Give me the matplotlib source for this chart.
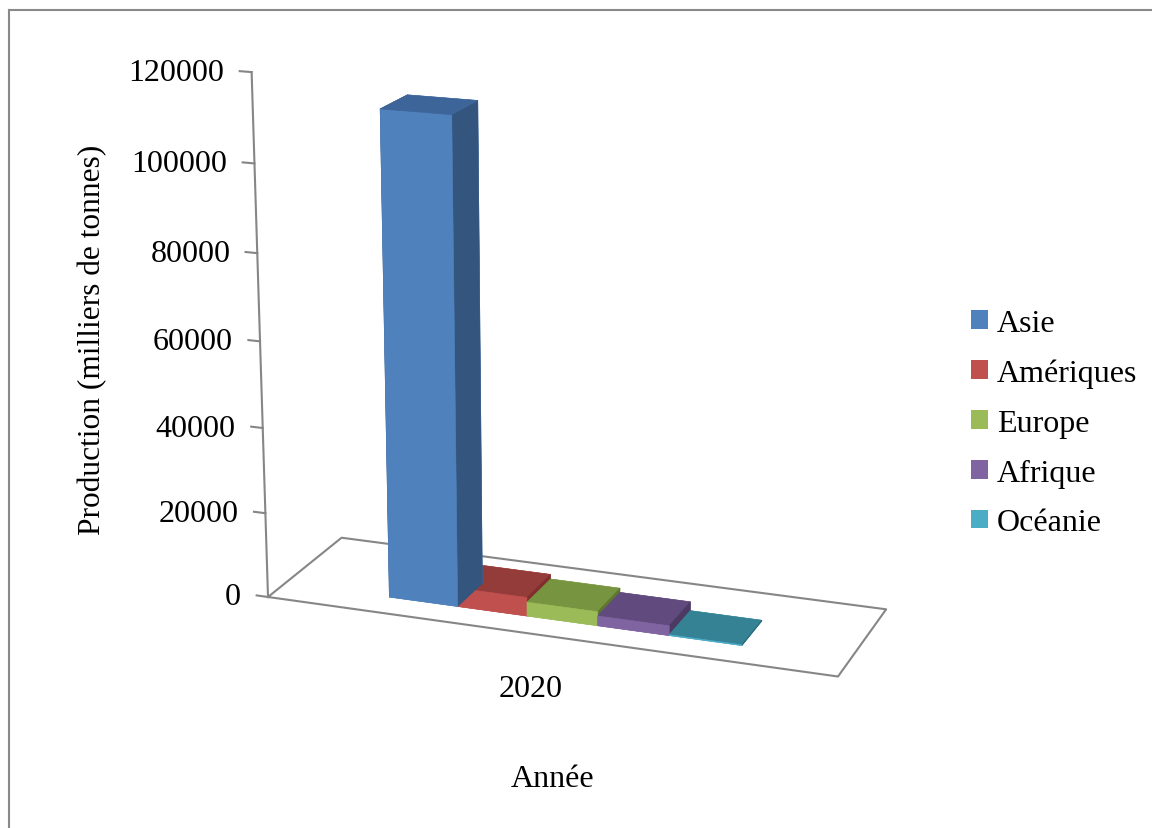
import numpy as np
import matplotlib
matplotlib.use("Agg")
import matplotlib.pyplot as plt
from matplotlib.patches import Patch
from matplotlib.lines import Line2D

# Production aquacole 2020 par continent (milliers de tonnes)
regions = ["Asie", "Amériques", "Europe", "Afrique", "Océanie"]
production = [112000, 4400, 3300, 2300, 200]
year_label = "2020"
value_ticks = [0, 20000, 40000, 60000, 80000, 100000, 120000]

front_colors = ["#4F81BD", "#C0504D", "#9BBB59", "#8064A2", "#4BACC6"]
top_colors = ["#3D659A", "#943C3A", "#779441", "#614B7E", "#348293"]
side_colors = ["#34557E", "#7F2F2D", "#5F7530", "#4C3A63", "#276A7C"]

plt.rcParams["font.family"] = ["Liberation Serif", "DejaVu Serif"]
FS = 23
W, H = 1152, 829

fig = plt.figure(figsize=(W / 100, H / 100), dpi=100)
ax = fig.add_axes([0.1, 0.1, 0.7, 0.7], projection="3d",
                  proj_type="persp", focal_length=0.7, computed_zorder=False)
ax.view_init(elev=17, azim=-70)
ax.set_axis_off()

n = len(regions)
xlo, xhi = -1.55, n + 1.45
ylo, yhi = 0.0, 1.0
zmax = value_ticks[-1]
ax.set_xlim(xlo, xhi)
ax.set_ylim(ylo, yhi)
ax.set_zlim(0, zmax)
ax.set_box_aspect((624, 190, 566), zoom=1.0)

axis_gray = "#868686"

# floor outline
ax.plot([xlo, xhi, xhi, xlo, xlo], [ylo, ylo, yhi, yhi, ylo], [0, 0, 0, 0, 0],
        color=axis_gray, lw=1.5, zorder=1)
# value axis with outward ticks
ax.plot([xlo, xlo], [ylo, ylo], [0, zmax], color=axis_gray, lw=1.5, zorder=1)
for v in value_ticks:
    ax.plot([xlo - 0.17, xlo], [ylo, ylo], [v, v], color=axis_gray, lw=1.5, zorder=1)

# bars: face order -z, +z, -y, +y, -x, +x
xpos = np.arange(n)
face_cols = []
for f, t, s in zip(front_colors, top_colors, side_colors):
    face_cols += [f, t, f, f, s, s]
ax.bar3d(xpos, 0.23, 0, 1.0, 0.37, production, color=face_cols, shade=False,
         edgecolor=face_cols, linewidth=0.4, zorder=2)

fig.canvas.draw()
M = ax.M


def proj(x, y, z):
    v = M @ np.array([x, y, z, 1.0])
    return v[0] / v[3], v[1] / v[3]


def to_disp(p):
    return ax.transData.transform(p)


# fit the axes so the floor front edge lands in place
fl = to_disp(proj(xlo, ylo, 0))
fr = to_disp(proj(xhi, ylo, 0))
tgt_fl = np.array([268.0, H - 598.0])
tgt_fr = np.array([838.0, H - 676.0])
bb = ax.get_position().frozen()
l, b, w, h = bb.x0 * W, bb.y0 * H, bb.width * W, bb.height * H
k = (tgt_fr[0] - tgt_fl[0]) / (fr[0] - fl[0])
r1 = (fl - np.array([l, b])) / np.array([w, h])
nw, nh = w * k, h * k
nl, nb = tgt_fl - r1 * np.array([nw, nh])
ax.set_position([nl / W, nb / H, nw / W, nh / H])

# value tick labels
for v in value_ticks:
    ax.annotate(f"{v}", xy=proj(xlo, ylo, v), xycoords="data",
                xytext=(-27, 0), textcoords="offset pixels",
                ha="right", va="center", fontsize=FS, annotation_clip=False)

# category label under the front edge
ax.annotate(year_label, xy=proj((xlo + xhi) / 2, ylo, 0), xycoords="data",
            xytext=(-13, -53), textcoords="offset pixels",
            ha="center", va="center", fontsize=FS, annotation_clip=False)

fig.text(553 / W, 1 - 780 / H, "Année", ha="center", va="center", fontsize=FS)
fig.text(93 / W, 1 - 340 / H, "Production (milliers de tonnes)", rotation=90,
         ha="center", va="center", fontsize=22.6)

handles = [Patch(facecolor=c, edgecolor="none") for c in front_colors]
fig.legend(handles, regions, loc="center left",
           bbox_to_anchor=(971 / W, 1 - 424 / H), frameon=False,
           fontsize=FS, handlelength=0.52, handleheight=0.52,
           handletextpad=0.3, labelspacing=0.65, borderpad=0, borderaxespad=0)

# chart area border
fig.add_artist(Line2D([9 / W, 1.0], [1 - 11 / H, 1 - 11 / H], transform=fig.transFigure,
                      color="#898989", lw=1.5))
fig.add_artist(Line2D([9 / W, 9 / W], [1 - 11 / H, 0.0], transform=fig.transFigure,
                      color="#898989", lw=1.5))

fig.savefig("out.png", dpi=100)
